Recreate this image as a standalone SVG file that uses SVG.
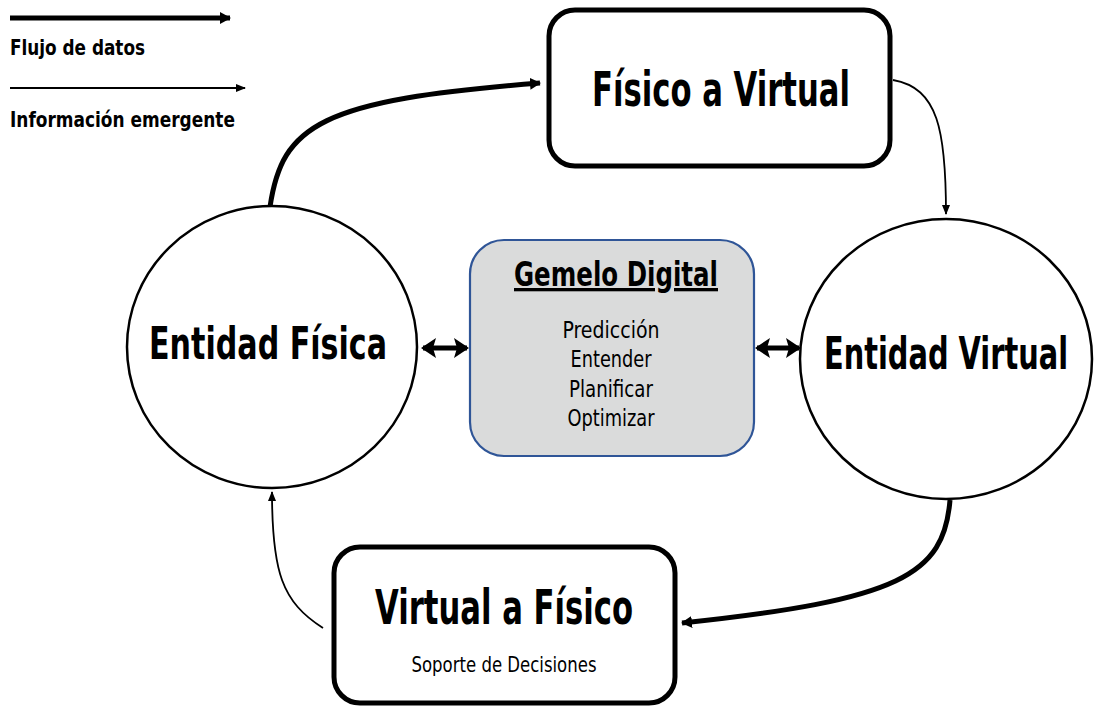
<svg xmlns="http://www.w3.org/2000/svg" width="1095" height="707" viewBox="0 0 1095 707">
  <style>
    .title { font-family: "Liberation Sans Narrow", "DejaVu Sans Condensed", "Liberation Sans", sans-serif; font-weight: bold; fill: #000; text-anchor: middle; }
    .body { font-family: "Liberation Sans Narrow", "DejaVu Sans Condensed", "Liberation Sans", sans-serif; fill: #000; text-anchor: middle; }
    .legend { font-family: "Liberation Sans Narrow", "DejaVu Sans Condensed", "Liberation Sans", sans-serif; font-weight: bold; font-size: 22px; fill: #000; }
    .box { fill: #fff; stroke: #000; stroke-width: 5; }
    .entity { fill: #fff; stroke: #000; stroke-width: 2.5; }
    .thick { fill: none; stroke: #000; stroke-width: 5; }
    .thin { fill: none; stroke: #000; stroke-width: 1.8; }
  </style>
  <defs>
    <marker id="headThick" markerUnits="userSpaceOnUse" markerWidth="12" markerHeight="14" refX="10" refY="7" orient="auto">
      <path d="M0,1 L11,7 L0,13 Z" fill="#000"/>
    </marker>
    <marker id="headThin" markerUnits="userSpaceOnUse" markerWidth="10" markerHeight="10" refX="9" refY="5" orient="auto">
      <path d="M0,1 L10,5 L0,9 Z" fill="#000"/>
    </marker>
    <marker id="headBoth" markerUnits="userSpaceOnUse" markerWidth="15" markerHeight="20" refX="13" refY="10" orient="auto-start-reverse">
      <path d="M0,0 L15,10 L0,20 L3,10 Z" fill="#000"/>
    </marker>
  </defs>

  <!-- legend -->
  <g id="legend">
    <line class="thick" x1="10" y1="18" x2="230" y2="18" marker-end="url(#headThick)"/>
    <text class="legend" x="10" y="55" textLength="135" lengthAdjust="spacingAndGlyphs">Flujo de datos</text>
    <line class="thin" x1="10" y1="88" x2="245" y2="88" marker-end="url(#headThin)"/>
    <text class="legend" x="10" y="127" textLength="225" lengthAdjust="spacingAndGlyphs">Información emergente</text>
  </g>

  <!-- connectors -->
  <g id="connectors">
    <path class="thick" d="M270,207 C282,125 320,100 540,83" marker-end="url(#headThick)"/>
    <path class="thin" d="M893,80 C938,88 946,130 946,214" marker-end="url(#headThin)"/>
    <path class="thick" d="M950,500 C944,575 900,600 682,623" marker-end="url(#headThick)"/>
    <path class="thin" d="M323,628 C282,602 272,572 272,492" marker-end="url(#headThin)"/>
    <line class="thick" x1="423" y1="348" x2="467" y2="348" marker-start="url(#headBoth)" marker-end="url(#headBoth)"/>
    <line class="thick" x1="757" y1="348" x2="799" y2="348" marker-start="url(#headBoth)" marker-end="url(#headBoth)"/>
  </g>

  <g id="fisico-a-virtual">
    <rect class="box" x="549" y="10" width="341" height="156" rx="26"/>
    <text class="title" x="721" y="106" font-size="48" textLength="258" lengthAdjust="spacingAndGlyphs">Físico a Virtual</text>
  </g>

  <g id="entidad-fisica">
    <ellipse class="entity" cx="272" cy="347" rx="145" ry="141"/>
    <text class="title" x="268" y="359" font-size="44" textLength="238" lengthAdjust="spacingAndGlyphs">Entidad Física</text>
  </g>

  <g id="entidad-virtual">
    <ellipse class="entity" cx="946" cy="359" rx="146" ry="140"/>
    <!-- smaller base size, stretched vertically so the label stays inside the canvas -->
    <text class="title" transform="translate(946,369) scale(1,1.3)" x="0" y="0" font-size="34" textLength="244" lengthAdjust="spacingAndGlyphs">Entidad Virtual</text>
  </g>

  <g id="gemelo-digital">
    <rect x="470" y="240" width="284" height="216" rx="34" fill="#dadbdb" stroke="#2f5597" stroke-width="2.2"/>
    <text class="title" x="616" y="286" font-size="33" textLength="204" lengthAdjust="spacingAndGlyphs" text-decoration="underline">Gemelo Digital</text>
    <text class="body" x="611" y="338" font-size="23" textLength="97" lengthAdjust="spacingAndGlyphs">Predicción</text>
    <text class="body" x="611" y="367" font-size="23" textLength="81" lengthAdjust="spacingAndGlyphs">Entender</text>
    <text class="body" x="611" y="397" font-size="23" textLength="84" lengthAdjust="spacingAndGlyphs">Planificar</text>
    <text class="body" x="611" y="426" font-size="23" textLength="87" lengthAdjust="spacingAndGlyphs">Optimizar</text>
  </g>

  <g id="virtual-a-fisico">
    <rect class="box" x="334" y="547" width="341" height="156" rx="26"/>
    <text class="title" x="504" y="624" font-size="48" textLength="258" lengthAdjust="spacingAndGlyphs">Virtual a Físico</text>
    <text class="body" x="504" y="672" font-size="22" textLength="185" lengthAdjust="spacingAndGlyphs">Soporte de Decisiones</text>
  </g>
</svg>
